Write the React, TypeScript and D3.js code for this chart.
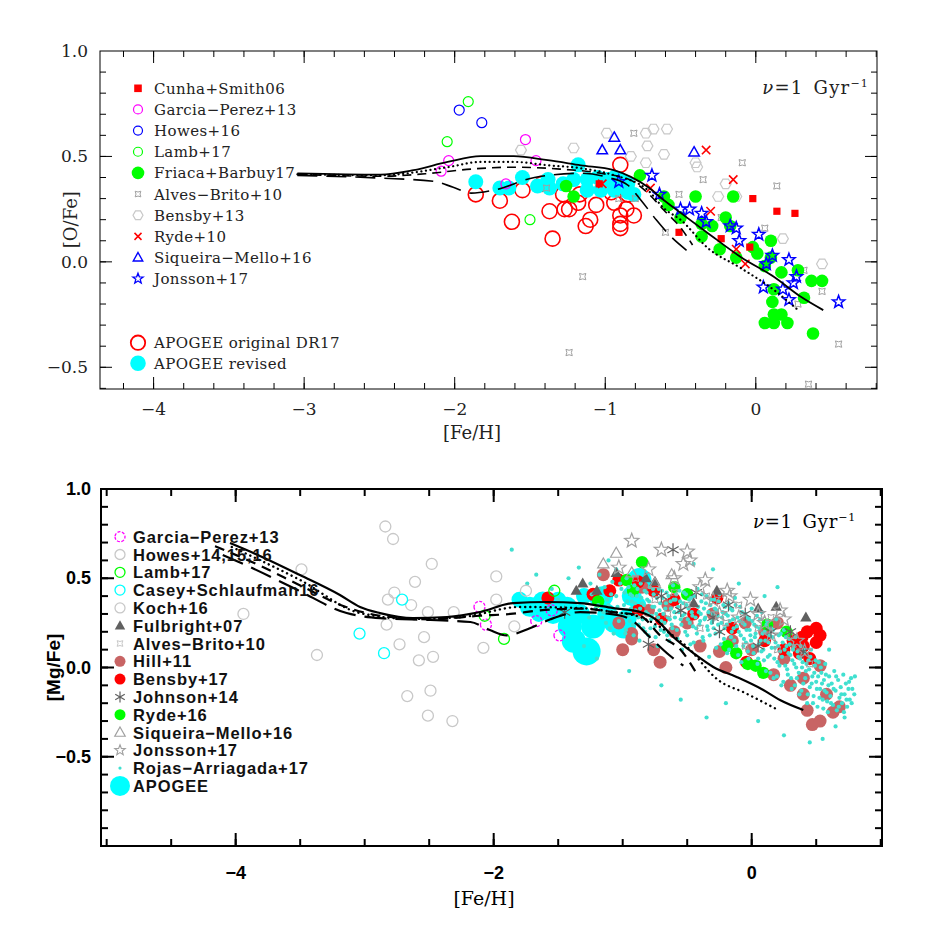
import React, { useEffect, useRef } from "react";
import * as d3 from "d3";

// ===================== TOP PANEL DATA ([Fe/H], [O/Fe]) =====================
const topCunha = [[-1.04,0.37],[-0.51,0.14],[-0.23,0.11],[-0.04,0.07],[-0.02,0.30],[0.14,0.24],[0.26,0.23]];
const topGarcia = [[-1.53,0.58],[-2.04,0.48],[-2.09,0.43],[-1.66,0.37],[-1.46,0.48]];
const topHowes = [[-1.97,0.72],[-1.82,0.66]];
const topLamb = [[-1.91,0.76],[-2.05,0.57],[-1.50,0.20]];
const topFriaca = [[-1.26,0.36],[-1.21,0.31],[-0.77,0.41],[-0.61,0.31],[-0.58,0.27],[-0.40,0.31],[-0.50,0.21],[-0.36,0.18],[-0.29,0.17],[-0.20,0.21],[-0.15,0.31],[-0.17,0.17],[-0.36,0.12],[-0.24,0.06],[-0.02,0.07],[0.01,0.04],[0.10,0.10],[0.10,0.02],[0.06,-0.02],[0.17,-0.05],[0.28,-0.04],[0.37,-0.09],[0.44,-0.09],[0.32,-0.17],[0.12,-0.13],[0.11,-0.19],[0.17,-0.25],[0.12,-0.25],[0.06,-0.29],[0.12,-0.29],[0.21,-0.29],[0.38,-0.34],[-0.13,0.02]];
const topAlves = [[-0.81,0.61],[-1.15,-0.07],[-0.91,0.30],[-0.80,0.30],[-0.60,0.14],[-0.51,0.32],[-0.09,0.47],[-0.35,0.39],[-0.23,0.21],[0.14,0.36],[0.06,0.16],[-0.25,0.05],[0.32,-0.04],[0.44,-0.14],[0.28,-0.20],[0.55,-0.39],[0.35,-0.58],[-1.24,-0.43],[-1.39,0.35]];
const topBensby = [[-0.99,0.61],[-0.73,0.61],[-0.68,0.63],[-0.59,0.63],[-1.21,0.54],[-1.56,0.53],[-0.72,0.55],[-0.61,0.51],[-0.73,0.47],[-0.83,0.50],[-0.40,0.47],[-0.39,0.45],[-0.20,0.37],[-0.25,0.31],[-0.13,0.31],[0.18,0.11],[0.44,-0.01]];
const topRyde = [[-0.33,0.53],[-0.15,0.39],[-0.30,0.24],[-0.13,0.06],[-0.07,-0.01],[-0.70,0.35],[-1.02,0.37]];
const topSiqueira = [[-0.94,0.59],[-1.02,0.53],[-0.90,0.53],[-0.41,0.52]];
const topJonsson = [[-0.69,0.41],[-0.91,0.38],[-0.64,0.32],[-0.50,0.25],[-0.44,0.25],[-0.36,0.23],[-0.33,0.19],[-0.17,0.17],[-0.13,0.16],[-0.11,0.10],[0.02,0.13],[0.07,-0.01],[0.11,0.03],[0.22,0.01],[0.05,-0.12],[0.18,-0.13],[0.25,-0.10],[0.27,-0.07],[0.22,-0.18],[0.55,-0.19]];
const topApogeeOrig = [[-1.86,0.32],[-1.70,0.29],[-1.55,0.34],[-1.62,0.19],[-1.37,0.24],[-1.35,0.11],[-1.42,0.37],[-1.28,0.32],[-1.27,0.25],[-1.24,0.25],[-1.18,0.28],[-1.17,0.32],[-1.13,0.17],[-1.10,0.20],[-1.06,0.27],[-0.94,0.28],[-0.90,0.46],[-0.90,0.22],[-0.90,0.18],[-0.90,0.16],[-0.86,0.25],[-0.81,0.22],[-0.96,0.33],[-0.85,0.32]];
const topApogeeRev = [[-1.86,0.38],[-1.70,0.35],[-1.64,0.35],[-1.55,0.40],[-1.38,0.39],[-1.37,0.35],[-1.18,0.46],[-1.21,0.39],[-1.12,0.39],[-1.05,0.40],[-0.99,0.39],[-0.94,0.40],[-0.90,0.39],[-0.85,0.37],[-0.81,0.32],[-1.12,0.34],[-1.03,0.34],[-0.94,0.34],[-0.85,0.33],[-1.28,0.37],[-1.45,0.36]];

// model curves (top)
const topSolid = [[-3.045,0.42],[-2.493,0.414],[-2.273,0.435],[-2.047,0.474],[-1.828,0.501],[-1.608,0.501],[-1.382,0.482],[-1.162,0.458],[-0.943,0.435],[-0.83,0.403],[-0.717,0.355],[-0.61,0.292],[-0.497,0.231],[-0.318,0.136],[-0.098,0.022],[0.122,-0.072],[0.302,-0.167],[0.448,-0.229]];
const topDotted = [[-3.045,0.415],[-2.493,0.411],[-2.047,0.449],[-1.828,0.474],[-1.608,0.474],[-1.382,0.458],[-1.162,0.444],[-0.943,0.411],[-0.717,0.34],[-0.61,0.254],[-0.497,0.198],[-0.318,0.065],[-0.098,-0.03],[0.122,-0.134],[0.281,-0.229]];
const topDashed = [[-3.045,0.415],[-2.49,0.406],[-2.16,0.42],[-1.89,0.44],[-1.61,0.449],[-1.30,0.44],[-1.03,0.42],[-0.83,0.387],[-0.717,0.326],[-0.61,0.245],[-0.497,0.16],[-0.42,0.08]];
const topLongDash = [[-3.045,0.41],[-2.49,0.397],[-2.14,0.382],[-2.01,0.354],[-1.89,0.326],[-1.74,0.34],[-1.47,0.40],[-1.16,0.42],[-0.98,0.40],[-0.85,0.364],[-0.76,0.29],[-0.66,0.198],[-0.56,0.117],[-0.46,0.055]];

const topXTicks = [-4, -3, -2, -1, 0];
const topYTicks = [1.0, 0.5, 0.0, -0.5];

// ===================== BOTTOM PANEL DATA ([Fe/H], [Mg/Fe]) =====================
const botGarcia = [[-2.11,0.34],[-2.06,0.24],[-1.55,0.32],[-1.67,0.26],[-1.49,0.18]];
const botHowes = [[-2.84,0.79],[-2.78,0.72],[-2.48,0.58],[-2.61,0.48],[-2.77,0.42],[-2.82,0.38],[-2.64,0.35],[-2.51,0.31],[-2.83,0.24],[-2.31,0.31],[-2.54,0.17],[-2.73,0.13],[-2.58,0.04],[-2.47,0.06],[-2.67,-0.16],[-2.49,-0.13],[-2.51,-0.27],[-2.32,-0.30],[-3.49,0.55],[-3.94,0.30],[-3.37,0.07]];
const botLamb = [[-1.53,0.43],[-2.07,0.29],[-1.92,0.16]];
const botCasey = [[-3.04,0.19],[-2.85,0.08],[-2.71,0.38]];
const botKoch = [[-1.98,0.51],[-1.98,0.38],[-1.75,0.43],[-1.84,0.23],[-2.08,0.11]];
const botFulbright = [[-1.31,0.47],[-1.36,0.43],[-1.20,0.43],[-1.05,0.53],[-0.82,0.50],[-0.75,0.48],[-0.27,0.43],[0.19,0.34],[0.42,0.28],[-0.45,0.36],[0.05,0.33]];
const botAlves = [[-0.90,0.50],[-0.60,0.42],[-0.35,0.40],[-0.10,0.35],[0.15,0.28],[-0.75,0.38],[-0.20,0.25],[0.30,0.18],[0.05,0.22],[-0.50,0.35],[-0.65,0.30],[-0.40,0.22],[0.20,0.10],[0.45,0.02],[-0.05,0.12]];
const botHill = [[-1.15,0.52],[-1.03,0.25],[-0.93,0.16],[-0.93,0.19],[-0.71,0.03],[-0.25,0.09],[0.17,-0.04],[0.40,-0.15],[0.43,-0.24],[0.47,-0.32],[0.53,-0.30],[0.63,-0.25],[0.68,-0.22],[0.58,-0.15],[0.40,-0.06],[0.53,0.01],[-0.80,0.32],[-0.60,0.20],[-0.50,0.25],[-0.40,0.12],[-0.30,0.30],[-0.15,0.15],[0.00,0.10],[0.10,0.20],[0.25,0.05],[0.30,-0.10],[-0.85,0.45],[-0.65,0.35],[-0.05,0.25],[0.35,0.12],[-0.20,0.00],[0.20,0.25],[-1.00,0.10],[-0.76,0.10]];
const botBensby = [[-1.58,0.39],[-1.23,0.41],[-1.10,0.43],[-1.03,0.49],[-0.88,0.48],[-0.88,0.32],[-0.76,0.43],[-0.27,0.39],[0.32,0.15],[0.39,0.17],[0.43,0.20],[0.50,0.22],[0.53,0.18],[0.50,0.14],[0.40,0.12],[0.37,0.08],[-0.04,0.03],[-0.60,0.38],[-0.45,0.30],[0.10,0.15],[0.25,0.10],[-0.70,0.27],[-0.15,0.22],[0.45,0.05]];
const botJohnson = [[-1.45,0.31],[-0.80,0.13],[-0.18,0.35],[-0.43,0.42],[-0.61,0.66],[0.40,0.09],[-0.30,0.28],[-0.05,0.30],[0.15,0.20],[-0.55,0.32],[-0.70,0.40],[0.30,0.20],[-0.25,0.20],[0.05,0.12]];
const botRyde = [[-0.85,0.59],[-1.19,0.37],[-0.97,0.49],[-0.92,0.43],[-0.50,0.41],[0.12,0.24],[0.27,0.20],[-0.12,0.08],[-0.03,0.02],[0.09,-0.03],[0.03,0.01],[-0.19,0.12],[-0.60,0.45]];
const botSiqueira = [[-1.05,0.64],[-0.93,0.53],[-0.62,0.52],[-0.75,0.47],[-1.15,0.58]];
const botJonsson = [[-0.93,0.71],[-1.03,0.56],[-0.70,0.66],[-0.50,0.65],[-0.48,0.60],[-0.53,0.58],[-0.36,0.49],[-0.19,0.43],[-0.17,0.40],[-0.01,0.38],[0.22,0.32],[0.25,0.27],[0.41,0.09],[-0.60,0.50],[-0.30,0.38],[0.05,0.30],[-0.40,0.45],[0.10,0.25],[-0.80,0.55],[-0.25,0.30],[0.35,0.15],[-0.10,0.28],[0.15,0.18]];
const botRojas = [
[-1.86,0.66],[-1.67,0.52],[-1.74,0.47],[-1.55,0.44],[-1.34,0.56],[-1.11,0.60],[-1.42,0.50],[-1.25,0.47],[-1.18,0.52],[-1.05,0.55],[-1.50,0.38],[-1.30,0.12],[-1.20,0.05],[-0.95,-0.02],[-0.70,-0.10],[-0.55,-0.18],[-0.35,-0.28],[-0.20,-0.20],[0.05,-0.30],[0.25,-0.38],[0.45,-0.42],[0.55,-0.40],[0.65,-0.33],[0.72,-0.28],[0.78,-0.12],[0.80,-0.05],[0.20,0.45],[-0.10,0.47],[-0.45,0.58],[-0.30,0.55],[0.10,0.40],[0.60,0.10],
[-1.22,0.42],[-1.19,0.35],[-1.16,0.28],[-1.14,0.45],[-1.12,0.38],[-1.10,0.22],[-1.08,0.48],[-1.06,0.31],[-1.05,0.40],[-1.03,0.26],[-1.01,0.44],[-0.99,0.35],[-0.98,0.19],[-0.97,0.50],[-0.96,0.29],[-0.94,0.41],[-0.93,0.37],[-0.92,0.24],[-0.91,0.46],[-0.90,0.32],
[-0.89,0.40],[-0.88,0.28],[-0.87,0.15],[-0.86,0.47],[-0.85,0.36],[-0.84,0.22],[-0.83,0.43],[-0.82,0.31],[-0.81,0.38],[-0.80,0.18],[-0.79,0.45],[-0.78,0.27],[-0.77,0.34],[-0.76,0.41],[-0.75,0.23],[-0.74,0.30],[-0.73,0.12],[-0.72,0.44],[-0.71,0.36],[-0.70,0.26],[-0.69,0.39],[-0.68,0.20],[-0.67,0.33],[-0.66,0.42],[-0.65,0.28],[-0.64,0.15],[-0.63,0.37],[-0.62,0.24],[-0.61,0.46],[-0.60,0.31],
[-0.59,0.38],[-0.58,0.21],[-0.57,0.34],[-0.56,0.43],[-0.55,0.27],[-0.54,0.10],[-0.53,0.36],[-0.52,0.30],[-0.51,0.41],[-0.50,0.18],[-0.49,0.33],[-0.48,0.25],[-0.47,0.39],[-0.46,0.29],[-0.45,0.14],[-0.44,0.35],[-0.43,0.22],[-0.42,0.44],[-0.41,0.31],[-0.40,0.26],[-0.39,0.37],[-0.38,0.17],[-0.37,0.33],[-0.36,0.28],[-0.35,0.40],[-0.34,0.21],[-0.33,0.06],[-0.32,0.35],[-0.31,0.25],[-0.30,0.30],
[-0.29,0.38],[-0.28,0.19],[-0.27,0.32],[-0.26,0.24],[-0.25,0.41],[-0.24,0.13],[-0.23,0.28],[-0.22,0.35],[-0.21,0.22],[-0.20,0.30],[-0.19,0.08],[-0.18,0.36],[-0.17,0.26],[-0.16,0.17],[-0.15,0.32],[-0.14,0.22],[-0.13,0.39],[-0.12,0.12],[-0.11,0.28],[-0.10,0.20],[-0.09,0.34],[-0.08,0.03],[-0.07,0.25],[-0.06,0.16],[-0.05,0.30],[-0.04,0.21],[-0.03,0.09],[-0.02,0.27],[-0.01,0.18],[0.00,0.33],
[0.01,0.12],[0.02,0.24],[0.03,0.19],[0.04,0.29],[0.05,0.05],[0.06,0.22],[0.07,0.15],[0.08,0.31],[0.09,0.10],[0.10,0.20],[0.11,-0.02],[0.12,0.26],[0.13,0.14],[0.14,0.07],[0.15,0.22],[0.16,0.17],[0.17,-0.06],[0.18,0.11],[0.19,0.27],[0.20,0.03],[0.21,0.18],[0.22,0.09],[0.23,-0.10],[0.24,0.14],[0.25,0.21],[0.26,0.01],[0.27,0.12],[0.28,-0.04],[0.29,0.16],[0.30,0.07],
[0.31,-0.12],[0.32,0.10],[0.33,0.02],[0.34,0.17],[0.35,-0.06],[0.36,0.06],[0.37,-0.15],[0.38,0.12],[0.39,0.00],[0.40,-0.09],[0.41,0.08],[0.42,-0.02],[0.43,-0.20],[0.44,0.04],[0.45,-0.11],[0.46,0.10],[0.47,-0.05],[0.48,-0.16],[0.49,0.01],[0.50,-0.08],[0.51,-0.22],[0.52,0.03],[0.53,-0.12],[0.54,-0.03],[0.55,-0.18],[0.56,-0.07],[0.57,0.02],[0.58,-0.14],[0.59,-0.25],[0.60,-0.05],
[0.61,-0.16],[0.62,-0.09],[0.63,-0.21],[0.64,-0.02],[0.65,-0.13],[0.66,-0.24],[0.67,-0.07],[0.68,-0.17],[0.69,-0.11],[0.70,-0.20],[0.71,-0.04],[0.72,-0.15],[0.73,-0.09],[0.74,-0.22],[0.75,-0.12],[0.76,-0.18],[0.77,-0.06],
[-1.005,0.30],[-0.985,0.42],[-0.975,0.21],[-0.965,0.37],[-0.955,0.45],[-0.945,0.26],[-0.935,0.33],[-0.925,0.40],[-0.915,0.18],[-0.905,0.36],
[-0.895,0.29],[-0.885,0.44],[-0.875,0.24],[-0.865,0.33],[-0.855,0.39],[-0.845,0.27],[-0.835,0.35],[-0.825,0.20],[-0.815,0.42],[-0.805,0.30],
[-0.795,0.37],[-0.785,0.22],[-0.775,0.29],[-0.765,0.44],[-0.755,0.34],[-0.745,0.17],[-0.735,0.39],[-0.725,0.28],[-0.715,0.32],[-0.705,0.21],
[-0.695,0.43],[-0.685,0.30],[-0.675,0.25],[-0.665,0.36],[-0.655,0.18],[-0.645,0.40],[-0.635,0.27],[-0.625,0.33],[-0.615,0.22],[-0.605,0.38],
[-0.595,0.28],[-0.585,0.41],[-0.575,0.16],[-0.565,0.31],[-0.555,0.37],[-0.545,0.24],[-0.535,0.29],[-0.525,0.42],[-0.515,0.20],[-0.505,0.35],
[-0.495,0.27],[-0.485,0.38],[-0.475,0.13],[-0.465,0.31],[-0.455,0.23],[-0.445,0.40],[-0.435,0.28],[-0.425,0.19],[-0.415,0.34],[-0.405,0.24],
[-0.395,0.30],[-0.385,0.41],[-0.375,0.15],[-0.365,0.27],[-0.355,0.36],[-0.345,0.23],[-0.335,0.31],[-0.325,0.18],[-0.315,0.38],[-0.305,0.26],
[-0.295,0.22],[-0.285,0.33],[-0.275,0.11],[-0.265,0.29],[-0.255,0.37],[-0.245,0.20],[-0.235,0.25],[-0.225,0.31],[-0.215,0.16],[-0.205,0.34],
[-0.195,0.24],[-0.185,0.29],[-0.175,0.10],[-0.165,0.33],[-0.155,0.20],[-0.145,0.27],[-0.135,0.15],[-0.125,0.35],[-0.115,0.23],[-0.105,0.07],
[-0.095,0.26],[-0.085,0.18],[-0.075,0.31],[-0.065,0.12],[-0.055,0.24],[-0.045,0.14],[-0.035,0.28],[-0.025,0.05],[-0.015,0.21],[-0.005,0.15],
[0.005,0.26],[0.015,0.08],[0.025,0.17],[0.035,0.23],[0.045,0.02],[0.055,0.13],[0.065,0.27],[0.075,0.09],[0.085,0.19],[0.095,0.04],
[0.105,0.15],[0.115,0.24],[0.125,0.06],[0.135,0.18],[0.145,-0.03],[0.155,0.11],[0.165,0.21],[0.175,0.05],[0.185,0.14],[0.195,-0.05],
[0.205,0.12],[0.215,0.01],[0.225,0.19],[0.235,0.06],[0.245,-0.08],[0.255,0.10],[0.265,0.17],[0.275,-0.01],[0.285,0.08],[0.295,0.13],
[0.305,-0.06],[0.315,0.04],[0.325,0.12],[0.335,-0.10],[0.345,0.00],[0.355,0.09],[0.365,-0.03],[0.375,0.05],[0.385,-0.13],[0.395,0.03],
[0.405,0.10],[0.415,-0.06],[0.425,0.02],[0.435,-0.15],[0.445,-0.01],[0.455,0.06],[0.465,-0.09],[0.475,-0.20],[0.485,-0.03],[0.495,0.04],
[0.505,-0.12],[0.515,-0.05],[0.525,-0.17],[0.535,0.00],[0.545,-0.09],[0.555,-0.23],[0.565,-0.13],[0.575,-0.04],[0.585,-0.19],[0.595,-0.10],
[0.615,-0.20],[0.635,-0.12],[0.655,-0.05],[0.675,-0.22],[0.695,-0.15],[0.715,-0.25],[0.735,-0.18],[0.755,-0.08],[0.775,-0.20],[0.795,-0.15],
[-1.28,0.36],[-1.26,0.28],[-1.24,0.41],[-1.21,0.33],[-1.18,0.44],[-1.15,0.31],[-1.13,0.25],[-1.11,0.35],[-1.09,0.41],[-1.07,0.19],[-1.04,0.34],[-1.02,0.47]
];
// APOGEE: [Fe/H], [Mg/Fe], relative weight (symbol size)
const botApogee = [[-1.80,0.38,2],[-1.72,0.34,3],[-1.62,0.37,3],[-1.54,0.30,3],[-1.43,0.34,3],[-1.41,0.23,4],[-1.38,0.15,4],[-1.28,0.09,5],[-1.23,0.23,4],[-1.33,0.30,3],[-1.12,0.30,3],[-1.07,0.25,3],[-0.97,0.27,3],[-1.20,0.39,2],[-0.87,0.49,4],[-0.99,0.23,4],[-1.50,0.38,2],[-1.65,0.30,2],[-1.30,0.40,2],[-1.15,0.40,3],[-0.93,0.40,3],[-0.88,0.35,2]];

const botSolid = [[-4.044,0.697],[-3.812,0.625],[-3.502,0.518],[-3.192,0.406],[-3.036,0.339],[-2.881,0.305],[-2.626,0.277],[-2.362,0.283],[-2.106,0.311],[-1.85,0.361],[-1.587,0.367],[-1.331,0.361],[-1.073,0.333],[-0.866,0.311],[-0.737,0.266],[-0.608,0.171],[-0.453,0.081],[-0.298,0.003],[-0.117,-0.053],[0.09,-0.126],[0.219,-0.182],[0.40,-0.238]];
const botDotted = [[-4.03,0.675],[-3.50,0.49],[-3.036,0.305],[-2.626,0.272],[-2.24,0.283],[-1.80,0.339],[-1.331,0.333],[-1.073,0.311],[-0.866,0.283],[-0.71,0.227],[-0.50,0.115],[-0.26,-0.07],[-0.05,-0.143],[0.19,-0.232]];
const botDashed = [[-4.16,0.68],[-3.81,0.57],[-3.50,0.46],[-3.15,0.34],[-2.88,0.29],[-2.49,0.27],[-2.11,0.29],[-1.87,0.30],[-1.64,0.32],[-1.33,0.33],[-1.07,0.31],[-0.866,0.29],[-0.71,0.18],[-0.54,0.09],[-0.43,-0.03]];
const botLongDash = [[-4.10,0.63],[-3.89,0.563],[-3.52,0.434],[-3.14,0.305],[-2.88,0.277],[-2.49,0.266],[-2.18,0.255],[-2.03,0.21],[-1.90,0.18],[-1.72,0.22],[-1.56,0.27],[-1.33,0.31],[-1.10,0.30],[-0.94,0.27],[-0.79,0.17],[-0.64,0.07],[-0.53,0.01]];

const botXTicks = [-4, -2, 0];
const botYTicks = [1.0, 0.5, 0.0, -0.5];

// ===================== MARKERS =====================
function starPts(n: number, R: number, r: number, rot: number) {
  const pts: number[][] = [];
  for (let i = 0; i < 2 * n; i++) {
    const rad = i % 2 === 0 ? R : r;
    const a = rot + (i * Math.PI) / n;
    pts.push([rad * Math.sin(a), -rad * Math.cos(a)]);
  }
  return "M" + pts.map((p) => p[0].toFixed(2) + "," + p[1].toFixed(2)).join("L") + "Z";
}
function markerPath(type: string, s: number): string {
  switch (type) {
    case "circle":
      return `M${-s},0A${s},${s} 0 1 0 ${s},0A${s},${s} 0 1 0 ${-s},0Z`;
    case "square":
      return `M${-s},${-s}H${s}V${s}H${-s}Z`;
    case "triangle": {
      const h = s * 0.5;
      return `M0,${-s}L${s * 0.95},${h + 1}L${-s * 0.95},${h + 1}Z`;
    }
    case "star":
      return starPts(5, s, s * 0.42, 0);
    case "hexagon": {
      const pts = d3.range(6).map((i) => [s * Math.cos((i * Math.PI) / 3), s * Math.sin((i * Math.PI) / 3)]);
      return "M" + pts.map((p) => p[0].toFixed(2) + "," + p[1].toFixed(2)).join("L") + "Z";
    }
    case "sparkle":
      return starPts(4, s, s * 0.5, Math.PI / 4);
    case "cross":
      return `M${-s},${-s}L${s},${s}M${s},${-s}L${-s},${s}`;
    case "asterisk": {
      let p = "";
      for (let i = 0; i < 3; i++) {
        const a = (i * Math.PI) / 3;
        p += `M${(s * Math.sin(a)).toFixed(2)},${(-s * Math.cos(a)).toFixed(2)}L${(-s * Math.sin(a)).toFixed(2)},${(s * Math.cos(a)).toFixed(2)}`;
      }
      return p;
    }
    default:
      return `M${-s},0A${s},${s} 0 1 0 ${s},0A${s},${s} 0 1 0 ${-s},0Z`;
  }
}

type Spec = { type: string; r: number; fill?: string; stroke?: string; sw?: number; dash?: string };

function drawPoints(g: any, data: number[][], xs: any, ys: any, sp: Spec) {
  g.append("g")
    .selectAll("path")
    .data(data)
    .enter()
    .append("path")
    .attr("d", markerPath(sp.type, sp.r))
    .attr("transform", (d: number[]) => `translate(${xs(d[0])},${ys(d[1])})`)
    .attr("fill", sp.fill ?? "none")
    .attr("stroke", sp.stroke ?? "none")
    .attr("stroke-width", sp.sw ?? 1)
    .attr("stroke-dasharray", sp.dash ?? null);
}

function legendMarker(g: any, x: number, y: number, sp: Spec) {
  g.append("path")
    .attr("d", markerPath(sp.type, sp.r))
    .attr("transform", `translate(${x},${y})`)
    .attr("fill", sp.fill ?? "none")
    .attr("stroke", sp.stroke ?? "none")
    .attr("stroke-width", sp.sw ?? 1)
    .attr("stroke-dasharray", sp.dash ?? null);
}

function drawFrame(g: any, xs: any, ys: any, xMajor: number[], xMinor: number[], yMajor: number[], yMinor: number[], lw: number, maj: number, min: number) {
  const [x0, x1] = xs.range();
  const [y0, y1] = ys.range();
  const tg = g.append("g").attr("stroke", "#000").attr("stroke-width", lw);
  const add = (vals: number[], len: number) => {
    vals.forEach((v) => {
      const px = xs(v);
      if (px < x0 + 0.5 || px > x1 - 0.5) return;
      tg.append("line").attr("x1", px).attr("x2", px).attr("y1", y0).attr("y2", y0 - len);
      tg.append("line").attr("x1", px).attr("x2", px).attr("y1", y1).attr("y2", y1 + len);
    });
  };
  const addY = (vals: number[], len: number) => {
    vals.forEach((v) => {
      const py = ys(v);
      if (py > y0 - 0.5 || py < y1 + 0.5) return;
      tg.append("line").attr("y1", py).attr("y2", py).attr("x1", x0).attr("x2", x0 + len);
      tg.append("line").attr("y1", py).attr("y2", py).attr("x1", x1).attr("x2", x1 - len);
    });
  };
  add(xMinor, min);
  add(xMajor, maj);
  addY(yMinor, min);
  addY(yMajor, maj);
  g.append("rect")
    .attr("x", x0).attr("y", y1).attr("width", x1 - x0).attr("height", y0 - y1)
    .attr("fill", "none").attr("stroke", "#000").attr("stroke-width", lw);
}

function drawCurve(g: any, data: number[][], xs: any, ys: any, dash: string | null, lw: number, cap: string) {
  const line = d3.line<number[]>().x((d) => xs(d[0])).y((d) => ys(d[1])).curve(d3.curveMonotoneX);
  g.append("path")
    .attr("d", line(data as any))
    .attr("fill", "none")
    .attr("stroke", "#000")
    .attr("stroke-width", lw)
    .attr("stroke-dasharray", dash)
    .attr("stroke-linecap", cap);
}

const fmt = (v: number, dec: number) => (v < 0 ? "\u2212" : "") + Math.abs(v).toFixed(dec);

const SERIF = "'DejaVu Serif', 'Liberation Serif', serif";
const SANS = "'Liberation Sans', Arial, sans-serif";

const GREEN = "#00ff00";
const LGREY = "#c8c8c8";
const MGREY = "#a0a0a0";
const DGREY = "#606060";
const HILL = "#c86464";
const TURQ = "#40e0d0";

function drawTop(svg: any) {
  const xs = d3.scaleLinear().domain([-4.356, 0.805]).range([100, 877]);
  const ys = d3.scaleLinear().domain([-0.603, 1.0]).range([389, 51]);
  const g = svg.append("g");

  drawPoints(g, topApogeeOrig, xs, ys, { type: "circle", r: 7.5, stroke: "#ff0000", sw: 1.6 });
  drawPoints(g, topApogeeRev, xs, ys, { type: "circle", r: 7.5, fill: "#00ffff" });
  drawPoints(g, topBensby, xs, ys, { type: "hexagon", r: 5.5, stroke: LGREY, sw: 1.2 });
  drawPoints(g, topAlves, xs, ys, { type: "sparkle", r: 4.5, stroke: MGREY, sw: 1 });
  drawPoints(g, topFriaca, xs, ys, { type: "circle", r: 6.3, fill: GREEN });
  drawPoints(g, topCunha, xs, ys, { type: "square", r: 3.6, fill: "#ff0000" });
  drawPoints(g, topGarcia, xs, ys, { type: "circle", r: 5, stroke: "#ff00ff", sw: 1.2 });
  drawPoints(g, topHowes, xs, ys, { type: "circle", r: 5, stroke: "#0000ff", sw: 1.2 });
  drawPoints(g, topLamb, xs, ys, { type: "circle", r: 5, stroke: GREEN, sw: 1.2 });
  drawPoints(g, topRyde, xs, ys, { type: "cross", r: 4.2, stroke: "#ff0000", sw: 1.6 });
  drawPoints(g, topSiqueira, xs, ys, { type: "triangle", r: 5.5, stroke: "#0000ff", sw: 1.5 });
  drawPoints(g, topJonsson, xs, ys, { type: "star", r: 6.5, stroke: "#0000ff", sw: 1.5 });

  drawCurve(g, topSolid, xs, ys, null, 1.8, "butt");
  drawCurve(g, topDotted, xs, ys, "0.1,4.5", 2.2, "round");
  drawCurve(g, topDashed, xs, ys, "9,6", 1.6, "butt");
  drawCurve(g, topLongDash, xs, ys, "20,9", 1.6, "butt");

  const xMinor = d3.range(-22, 5).map((i) => i * 0.2);
  const yMinor = d3.range(-6, 11).map((i) => i * 0.1);
  drawFrame(g, xs, ys, topXTicks, xMinor, topYTicks, yMinor, 1, 12, 6);

  const tf = g.append("g").attr("font-family", SERIF).attr("fill", "#222");
  topXTicks.forEach((v) =>
    tf.append("text").attr("x", xs(v)).attr("y", 415).attr("text-anchor", "middle").attr("font-size", 17).text(v === 0 ? "0" : fmt(v, 0))
  );
  topYTicks.forEach((v) =>
    tf.append("text").attr("x", 88).attr("y", ys(v) + 6).attr("text-anchor", "end").attr("font-size", 17).text(fmt(v, 1))
  );
  tf.append("text").attr("x", 472).attr("y", 439).attr("text-anchor", "middle").attr("font-size", 18).text("[Fe/H]");
  tf.append("text").attr("transform", `translate(77,${ys(0.2)}) rotate(-90)`).attr("text-anchor", "middle").attr("font-size", 18).text("[O/Fe]");

  const nu = tf.append("text").attr("x", 869).attr("y", 94).attr("text-anchor", "end").attr("font-size", 18).attr("letter-spacing", 1.2);
  nu.append("tspan").attr("font-style", "italic").text("\u03bd");
  nu.append("tspan").text("=1\u2002Gyr");
  nu.append("tspan").attr("font-size", 11).attr("dy", -7).text("\u22121");

  const leg: [string, Spec][] = [
    ["Cunha+Smith06", { type: "square", r: 3.8, fill: "#ff0000" }],
    ["Garcia\u2212Perez+13", { type: "circle", r: 4.5, stroke: "#ff00ff", sw: 1.2 }],
    ["Howes+16", { type: "circle", r: 4.5, stroke: "#0000ff", sw: 1.2 }],
    ["Lamb+17", { type: "circle", r: 4.5, stroke: GREEN, sw: 1.2 }],
    ["Friaca+Barbuy17", { type: "circle", r: 6.3, fill: GREEN }],
    ["Alves\u2212Brito+10", { type: "sparkle", r: 4, stroke: MGREY, sw: 1 }],
    ["Bensby+13", { type: "hexagon", r: 5, stroke: LGREY, sw: 1.2 }],
    ["Ryde+10", { type: "cross", r: 3.5, stroke: "#ff0000", sw: 1.5 }],
    ["Siqueira\u2212Mello+16", { type: "triangle", r: 5, stroke: "#0000ff", sw: 1.4 }],
    ["Jonsson+17", { type: "star", r: 5.5, stroke: "#0000ff", sw: 1.3 }],
  ];
  const lg = g.append("g");
  leg.forEach(([lab, sp], i) => {
    const y = 88.3 + i * 21.15;
    legendMarker(lg, 138, y, sp);
    lg.append("text").attr("x", 154).attr("y", y + 5.5).attr("font-family", SERIF).attr("font-size", 15).attr("letter-spacing", 0.4).attr("fill", "#222").text(lab);
  });
  const leg2: [string, Spec][] = [
    ["APOGEE original DR17", { type: "circle", r: 7.2, stroke: "#ff0000", sw: 1.8 }],
    ["APOGEE revised", { type: "circle", r: 7.8, fill: "#00ffff" }],
  ];
  leg2.forEach(([lab, sp], i) => {
    const y = 342.7 + i * 20.6;
    legendMarker(lg, 138, y, sp);
    lg.append("text").attr("x", 154).attr("y", y + 5.5).attr("font-family", SERIF).attr("font-size", 15).attr("letter-spacing", 0.4).attr("fill", "#222").text(lab);
  });
}

function drawBottom(svg: any) {
  const xs = d3.scaleLinear().domain([-5.044, 1.01]).range([101, 882]);
  const ys = d3.scaleLinear().domain([-1.0, 1.0]).range([846, 489]);
  const rs = d3.scaleLinear().domain([1, 5]).range([6, 14]);
  const g = svg.append("g");

  g.append("g")
    .selectAll("circle")
    .data(botApogee)
    .enter()
    .append("circle")
    .attr("cx", (d: number[]) => xs(d[0]))
    .attr("cy", (d: number[]) => ys(d[1]))
    .attr("r", (d: number[]) => rs(d[2]))
    .attr("fill", "#00ffff");

  drawPoints(g, botHill, xs, ys, { type: "circle", r: 6.5, fill: HILL });
  drawPoints(g, botBensby, xs, ys, { type: "circle", r: 6.5, fill: "#ff0000" });
  drawPoints(g, botRyde, xs, ys, { type: "circle", r: 6.2, fill: GREEN });
  drawPoints(g, botRojas, xs, ys, { type: "circle", r: 2.1, fill: TURQ });
  drawPoints(g, botFulbright, xs, ys, { type: "triangle", r: 6, fill: DGREY });
  drawPoints(g, botAlves, xs, ys, { type: "sparkle", r: 4.5, stroke: MGREY, sw: 1 });
  drawPoints(g, botJohnson, xs, ys, { type: "asterisk", r: 6.5, stroke: DGREY, sw: 1.2 });
  drawPoints(g, botSiqueira, xs, ys, { type: "triangle", r: 6, stroke: MGREY, sw: 1.2 });
  drawPoints(g, botJonsson, xs, ys, { type: "star", r: 7.5, stroke: MGREY, sw: 1.2 });
  drawPoints(g, botHowes, xs, ys, { type: "circle", r: 5.5, stroke: LGREY, sw: 1.3 });
  drawPoints(g, botKoch, xs, ys, { type: "circle", r: 5.5, stroke: LGREY, sw: 1.3 });
  drawPoints(g, botGarcia, xs, ys, { type: "circle", r: 5.5, stroke: "#ff00ff", sw: 1.3, dash: "3,1.5" });
  drawPoints(g, botLamb, xs, ys, { type: "circle", r: 5.5, stroke: GREEN, sw: 1.3 });
  drawPoints(g, botCasey, xs, ys, { type: "circle", r: 5.5, stroke: "#00ffff", sw: 1.3 });

  drawCurve(g, botSolid, xs, ys, null, 2.2, "butt");
  drawCurve(g, botDotted, xs, ys, "0.1,5", 2.4, "round");
  drawCurve(g, botDashed, xs, ys, "10,7", 2.2, "butt");
  drawCurve(g, botLongDash, xs, ys, "22,9", 2.2, "butt");

  const xMinor = d3.range(-10, 3).map((i) => i * 0.5);
  const yMinor = d3.range(-10, 11).map((i) => i * 0.1);
  drawFrame(g, xs, ys, botXTicks, xMinor, botYTicks, yMinor, 2, 13, 7);

  const tf = g.append("g").attr("fill", "#000");
  botXTicks.forEach((v) =>
    tf.append("text").attr("x", xs(v)).attr("y", 879).attr("text-anchor", "middle").attr("font-family", SANS).attr("font-weight", "bold").attr("font-size", 18).text(v === 0 ? "0" : fmt(v, 0))
  );
  botYTicks.forEach((v) =>
    tf.append("text").attr("x", 91).attr("y", ys(v) + 6).attr("text-anchor", "end").attr("font-family", SANS).attr("font-weight", "bold").attr("font-size", 18).text(fmt(v, 1))
  );
  tf.append("text").attr("x", 484).attr("y", 905).attr("text-anchor", "middle").attr("font-family", SERIF).attr("font-size", 19).text("[Fe/H]");
  tf.append("text").attr("transform", `translate(60,${ys(0)}) rotate(-90)`).attr("text-anchor", "middle").attr("font-family", SANS).attr("font-weight", "bold").attr("font-size", 19).text("[Mg/Fe]");

  const nu = tf.append("text").attr("x", 856).attr("y", 528).attr("text-anchor", "end").attr("font-family", SERIF).attr("font-size", 18).attr("letter-spacing", 0.8);
  nu.append("tspan").attr("font-style", "italic").text("\u03bd");
  nu.append("tspan").text("=1\u2002Gyr");
  nu.append("tspan").attr("font-size", 11).attr("dy", -7).text("\u22121");

  const leg: [string, Spec][] = [
    ["Garcia\u2212Perez+13", { type: "circle", r: 5, stroke: "#ff00ff", sw: 1.3, dash: "3,1.5" }],
    ["Howes+14,15,16", { type: "circle", r: 5, stroke: LGREY, sw: 1.3 }],
    ["Lamb+17", { type: "circle", r: 5, stroke: GREEN, sw: 1.3 }],
    ["Casey+Schlaufman16", { type: "circle", r: 5, stroke: "#00ffff", sw: 1.3 }],
    ["Koch+16", { type: "circle", r: 5, stroke: LGREY, sw: 1.3 }],
    ["Fulbright+07", { type: "triangle", r: 5.5, fill: DGREY }],
    ["Alves\u2212Brito+10", { type: "sparkle", r: 4, stroke: LGREY, sw: 1 }],
    ["Hill+11", { type: "circle", r: 5.5, fill: HILL }],
    ["Bensby+17", { type: "circle", r: 5.5, fill: "#ff0000" }],
    ["Johnson+14", { type: "asterisk", r: 5.5, stroke: DGREY, sw: 1.2 }],
    ["Ryde+16", { type: "circle", r: 5.5, fill: GREEN }],
    ["Siqueira\u2212Mello+16", { type: "triangle", r: 5.5, stroke: MGREY, sw: 1.2 }],
    ["Jonsson+17", { type: "star", r: 5.5, stroke: MGREY, sw: 1.1 }],
    ["Rojas\u2212Arriagada+17", { type: "circle", r: 1.6, fill: TURQ }],
    ["APOGEE", { type: "circle", r: 10, fill: "#00ffff" }],
  ];
  const lg = g.append("g");
  leg.forEach(([lab, sp], i) => {
    const y = 536.7 + i * 17.8;
    legendMarker(lg, 120, y, sp);
    lg.append("text").attr("x", 133).attr("y", y + 6).attr("font-family", SANS).attr("font-weight", "bold").attr("font-size", 16.5).attr("letter-spacing", 0.9).attr("fill", "#111").text(lab);
  });
}

export default function App() {
  const ref = useRef<SVGSVGElement>(null);
  useEffect(() => {
    const svg = d3.select(ref.current);
    svg.selectAll("*").remove();
    drawTop(svg);
    drawBottom(svg);
  }, []);
  return (
    <svg
      ref={ref}
      width={926}
      height={926}
      style={{ position: "absolute", left: 0, top: 0, background: "#fff", display: "block" }}
    />
  );
}
